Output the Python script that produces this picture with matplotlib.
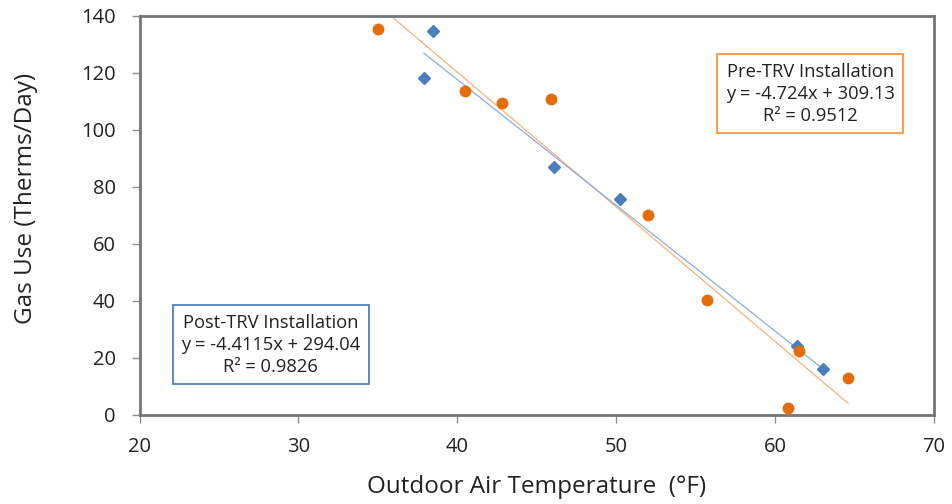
import numpy as np
import matplotlib
matplotlib.use("Agg")
import matplotlib.pyplot as plt

plt.rcParams["font.family"] = ["Open Sans", "DejaVu Sans"]

# Pre-TRV installation (orange circles)
pre_temp = [35.0, 40.5, 42.8, 45.9, 52.0, 55.7, 61.5, 60.8, 64.6]
pre_gas = [135.5, 113.6, 109.3, 110.9, 70.1, 40.3, 22.3, 2.2, 13.0]
pre_slope, pre_icept, pre_r2 = -4.724, 309.13, 0.9512

# Post-TRV installation (blue diamonds)
post_temp = [37.9, 38.45, 46.1, 50.25, 61.35, 63.0]
post_gas = [118.1, 134.8, 86.8, 75.8, 24.1, 16.0]
post_slope, post_icept, post_r2 = -4.4115, 294.04, 0.9826

x_ticks = [20, 30, 40, 50, 60, 70]
y_ticks = [0, 20, 40, 60, 80, 100, 120, 140]

orange = "#E46C0A"
orange_line = "#F7B27C"
blue = "#4A7EBB"
blue_line = "#8FAADC"

fig = plt.figure(figsize=(9.52, 5.04), dpi=100)
ax = fig.add_axes([0.1466, 0.1772, 0.8345, 0.7916])

# trendlines across each series' range
xs = np.array([min(pre_temp), max(pre_temp)])
ax.plot(xs, pre_slope * xs + pre_icept, color=orange_line, lw=0.9, zorder=2)
xs = np.array([min(post_temp), max(post_temp)])
ax.plot(xs, post_slope * xs + post_icept, color=blue_line, lw=0.9, zorder=2)

ax.plot(post_temp, post_gas, "D", color=blue, ms=6, mec=blue, zorder=3)
ax.plot(pre_temp, pre_gas, "o", color=orange, ms=7.5, mec=orange, zorder=3)

ax.set_xlim(20, 70)
ax.set_ylim(0, 140)
ax.set_xticks(x_ticks)
ax.set_yticks(y_ticks)
ax.tick_params(axis="both", length=6, width=1, color="#8C8C8C", labelsize=14.5,
               labelcolor="#222222")
ax.tick_params(axis="x", pad=10)
ax.tick_params(axis="y", pad=11)
for s in ax.spines.values():
    s.set_color("#767676")
    s.set_linewidth(2)

ax.set_xlabel("Outdoor Air Temperature  (°F)", fontsize=17.5, color="#222222")
ax.set_ylabel("Gas Use (Therms/Day)", fontsize=17.5, color="#222222")
ax.xaxis.set_label_coords(0.5, -0.152)
ax.yaxis.set_label_coords(-0.128, 0.543)

ax.text(0.844, 0.804,
        "Pre-TRV Installation\ny = %.3fx + %.2f\nR² = %.4f" % (pre_slope, pre_icept, pre_r2),
        transform=ax.transAxes, ha="center", va="center", fontsize=13.2,
        linespacing=1.3, color="#222222",
        bbox=dict(boxstyle="square,pad=0.45", fc="white", ec="#F79646", lw=1.3))
ax.text(0.165, 0.175,
        "Post-TRV Installation\ny = %.4fx + %.2f\nR² = %.4f" % (post_slope, post_icept, post_r2),
        transform=ax.transAxes, ha="center", va="center", fontsize=13.2,
        linespacing=1.3, color="#222222",
        bbox=dict(boxstyle="square,pad=0.45", fc="white", ec="#4F81BD", lw=1.3))

fig.savefig("out.png", dpi=100)
